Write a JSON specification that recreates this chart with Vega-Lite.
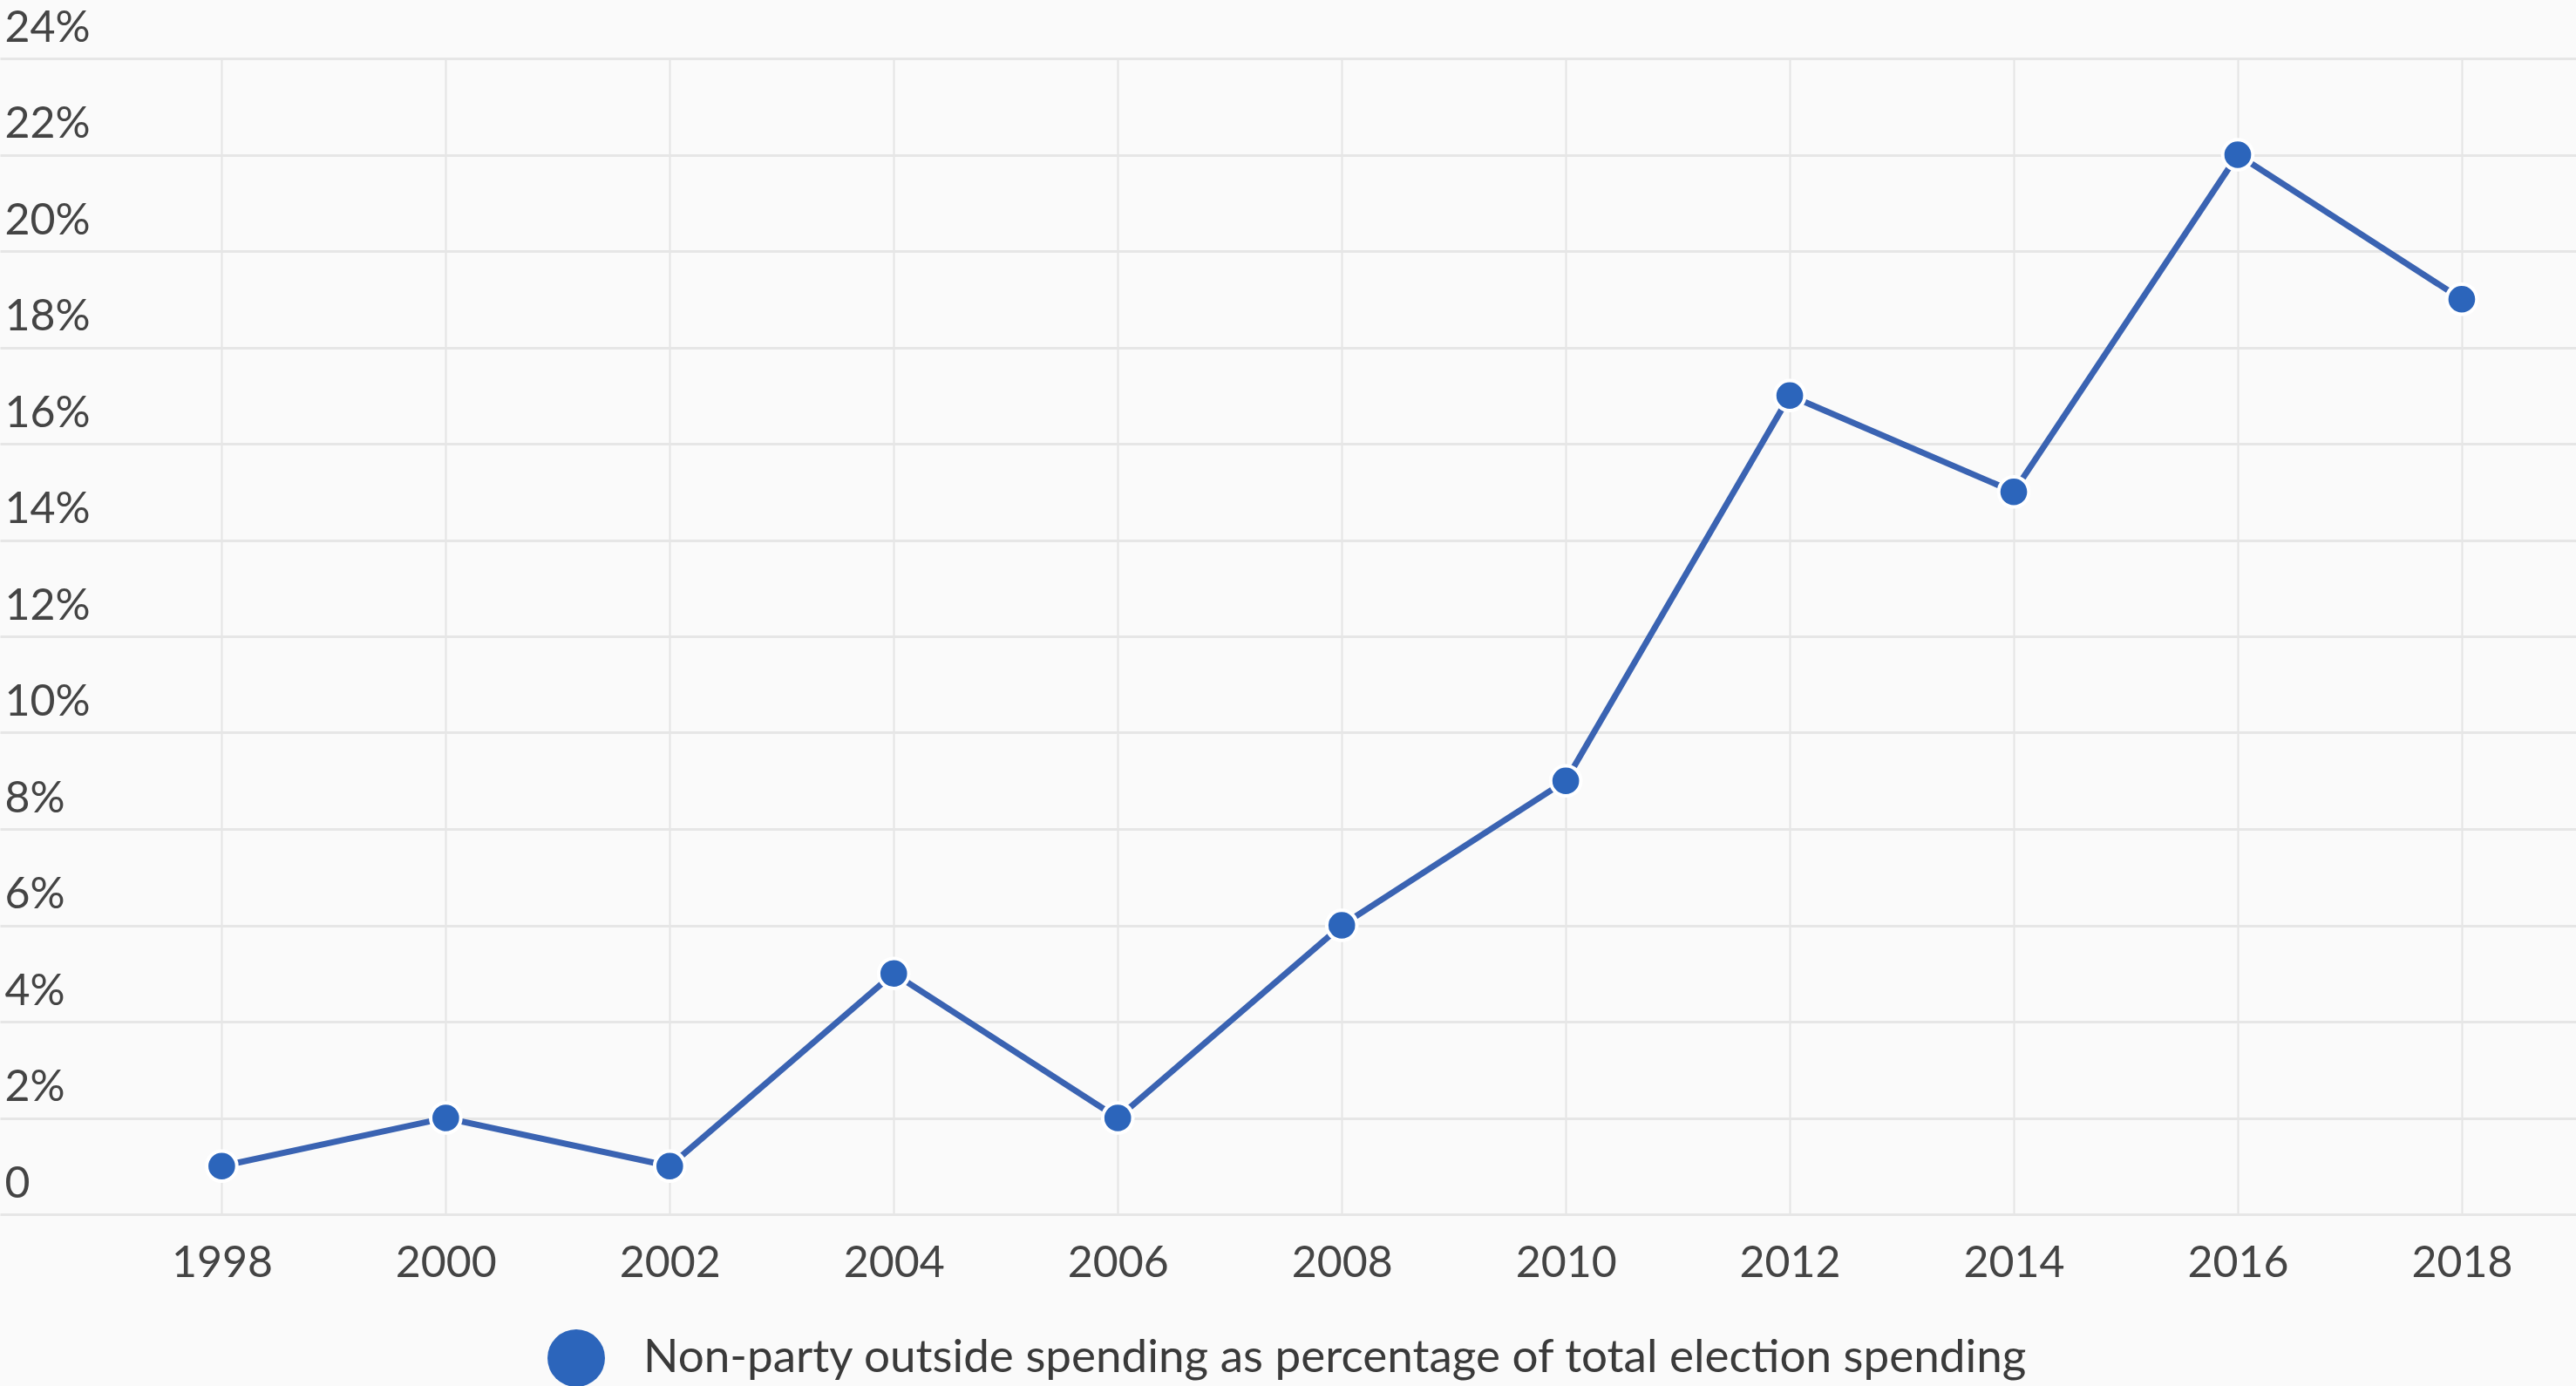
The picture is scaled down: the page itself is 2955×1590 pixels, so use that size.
{
  "$schema": "https://vega.github.io/schema/vega-lite/v6.json",
  "width": 2955,
  "height": 1326,
  "autosize": {"type": "none"},
  "padding": {"left": 0, "top": 67, "right": 0, "bottom": 197},
  "background": "#fafafa",
  "config": {"view": {"stroke": null}, "font": "Lato"},
  "data": {
    "values": [
      {"year": 1998, "share": 1, "series": "Non-party outside spending as percentage of total election spending"},
      {"year": 2000, "share": 2, "series": "Non-party outside spending as percentage of total election spending"},
      {"year": 2002, "share": 1, "series": "Non-party outside spending as percentage of total election spending"},
      {"year": 2004, "share": 5, "series": "Non-party outside spending as percentage of total election spending"},
      {"year": 2006, "share": 2, "series": "Non-party outside spending as percentage of total election spending"},
      {"year": 2008, "share": 6, "series": "Non-party outside spending as percentage of total election spending"},
      {"year": 2010, "share": 9, "series": "Non-party outside spending as percentage of total election spending"},
      {"year": 2012, "share": 17, "series": "Non-party outside spending as percentage of total election spending"},
      {"year": 2014, "share": 15, "series": "Non-party outside spending as percentage of total election spending"},
      {"year": 2016, "share": 22, "series": "Non-party outside spending as percentage of total election spending"},
      {"year": 2018, "share": 19, "series": "Non-party outside spending as percentage of total election spending"}
    ]
  },
  "encoding": {
    "x": {
      "field": "year",
      "type": "quantitative",
      "scale": {"domain": [1996.02, 2019.02], "nice": false, "zero": false},
      "axis": {
        "title": null,
        "values": [1998, 2000, 2002, 2004, 2006, 2008, 2010, 2012, 2014, 2016, 2018],
        "format": "d",
        "domain": false,
        "ticks": false,
        "grid": true,
        "gridColor": "#e4e4e4",
        "gridWidth": 2,
        "labelFont": "Lato",
        "labelFontSize": 50,
        "labelColor": "#444444",
        "labelPadding": 31,
        "labelBaseline": "top",
        "labelFlush": false,
        "labelOverlap": false
      }
    },
    "y": {
      "field": "share",
      "type": "quantitative",
      "scale": {"domain": [0, 24], "nice": false, "zero": true},
      "axis": {
        "title": null,
        "values": [0, 2, 4, 6, 8, 10, 12, 14, 16, 18, 20, 22, 24],
        "domain": false,
        "ticks": false,
        "tickSize": 0,
        "grid": true,
        "gridColor": "#e6e6e6",
        "gridWidth": 3,
        "labelExpr": "datum.value == 0 ? '0' : datum.value + '%'",
        "labelFont": "Lato",
        "labelFontSize": 50,
        "labelColor": "#444444",
        "labelAlign": "left",
        "labelBaseline": "alphabetic",
        "labelPadding": -5,
        "labelOffset": -20,
        "labelFlush": false,
        "labelOverlap": false
      }
    }
  },
  "layer": [
    {
      "mark": {"type": "line", "color": "#3a63b2", "strokeWidth": 7}
    },
    {
      "mark": {"type": "point", "shape": "circle", "filled": true, "size": 1200, "stroke": "#ffffff", "strokeWidth": 4, "opacity": 1},
      "encoding": {
        "color": {
          "field": "series",
          "type": "nominal",
          "scale": {"range": ["#2c65bb"]},
          "legend": {
            "title": null,
            "orient": "none",
            "legendX": 628,
            "legendY": 1458,
            "padding": 0,
            "symbolType": "circle",
            "symbolSize": 4356,
            "symbolStrokeWidth": 0,
            "symbolOpacity": 1,
            "labelFont": "Lato",
            "labelFontSize": 53,
            "labelColor": "#3a3a3a",
            "labelLimit": 2600,
            "labelOffset": 44
          }
        }
      }
    }
  ]
}
